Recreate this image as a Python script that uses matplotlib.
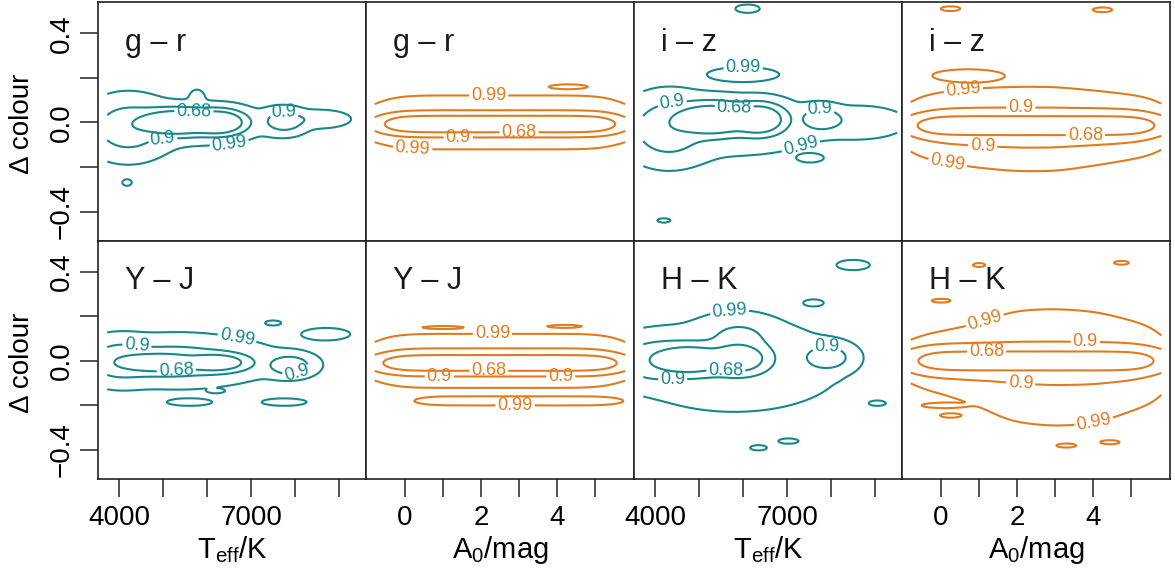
import numpy as np
import matplotlib.pyplot as plt

plt.rcParams['font.family'] = ['Liberation Sans', 'DejaVu Sans']
plt.rcParams['mathtext.fontset'] = 'custom'
plt.rcParams['mathtext.rm'] = 'Liberation Sans'

TEAL = '#17878c'
ORANGE = '#e07b1f'

# Density components per panel: (x centre, colour-residual centre, x width, y width, peak weight)
gr_teff = [(5300, 0.00, 450, 0.030, 0.85), (6250, 0.00, 320, 0.028, 0.85),
           (4200, -0.025, 450, 0.065, 0.15), (7750, 0.005, 260, 0.028, 0.16),
           (8550, 0.015, 350, 0.020, 0.05), (5500, -0.01, 1300, 0.065, 0.015),
           (5770, 0.115, 120, 0.025, 0.012), (4180, -0.27, 60, 0.008, 0.03)]
gr_a0 = [(0, -0.008, 0.55, 0.028, 1.0), (1, -0.008, 0.55, 0.028, 1.0), (2, -0.008, 0.55, 0.028, 1.0),
         (3, -0.008, 0.55, 0.028, 1.0), (4, -0.008, 0.55, 0.028, 1.0), (5, -0.008, 0.55, 0.028, 1.0),
         (0, 0.0, 0.6, 0.058, 0.13), (1, 0.0, 0.6, 0.058, 0.13), (2, 0.0, 0.6, 0.058, 0.13),
         (3, 0.0, 0.6, 0.058, 0.13), (4, 0.0, 0.6, 0.058, 0.13), (5, 0.0, 0.6, 0.058, 0.13),
         (4.3, 0.16, 0.3, 0.006, 0.08)]
iz_teff = [(5300, 0.013, 450, 0.036, 0.85), (6350, 0.013, 300, 0.034, 0.85),
           (4300, -0.03, 450, 0.070, 0.14), (7770, 0.015, 250, 0.028, 0.16),
           (8700, 0.00, 500, 0.035, 0.035), (5600, -0.02, 1500, 0.085, 0.015),
           (6000, 0.215, 400, 0.016, 0.035), (7530, -0.16, 150, 0.010, 0.025),
           (6100, 0.51, 150, 0.010, 0.025), (4200, -0.44, 80, 0.005, 0.025)]
iz_a0 = [(0, -0.014, 0.55, 0.028, 1.0), (1, -0.014, 0.55, 0.028, 1.0), (2, -0.014, 0.55, 0.028, 1.0),
         (3, -0.014, 0.55, 0.028, 1.0), (4, -0.014, 0.55, 0.028, 1.0), (5, -0.014, 0.55, 0.028, 1.0),
         (0, -0.02, 0.6, 0.070, 0.15), (1, -0.025, 0.6, 0.080, 0.15), (2, -0.03, 0.6, 0.085, 0.15),
         (3, -0.03, 0.6, 0.085, 0.15), (4, -0.025, 0.6, 0.075, 0.15), (5, -0.02, 0.6, 0.065, 0.15),
         (0.7, 0.21, 0.5, 0.015, 0.10), (0.25, 0.51, 0.15, 0.006, 0.08), (4.25, 0.505, 0.15, 0.006, 0.08)]
yj_teff = [(4900, -0.008, 500, 0.022, 0.85), (6200, -0.008, 350, 0.020, 0.85),
           (4000, 0.00, 400, 0.050, 0.12), (5300, 0.00, 800, 0.050, 0.10),
           (7870, -0.02, 270, 0.025, 0.16), (5800, 0.00, 1500, 0.060, 0.012),
           (7500, 0.17, 100, 0.006, 0.025), (6200, -0.135, 100, 0.005, 0.025),
           (5600, -0.185, 280, 0.009, 0.025), (7750, -0.185, 280, 0.009, 0.025),
           (8700, 0.12, 300, 0.015, 0.025)]
yj_a0 = [(0, -0.01, 0.55, 0.025, 1.0), (1, -0.01, 0.55, 0.025, 1.0), (2, -0.01, 0.55, 0.025, 1.0),
         (3, -0.01, 0.55, 0.025, 1.0), (4, -0.01, 0.55, 0.025, 1.0), (5, -0.01, 0.55, 0.025, 1.0),
         (0, 0.0, 0.6, 0.055, 0.15), (1, 0.0, 0.6, 0.055, 0.15), (2, 0.0, 0.6, 0.055, 0.15),
         (3, 0.0, 0.6, 0.055, 0.15), (4, 0.0, 0.6, 0.055, 0.15), (5, 0.0, 0.6, 0.055, 0.15),
         (1, -0.18, 0.5, 0.012, 0.06), (2, -0.18, 0.5, 0.012, 0.06), (3, -0.18, 0.5, 0.012, 0.06),
         (4, -0.18, 0.5, 0.012, 0.06), (5, -0.18, 0.5, 0.012, 0.06),
         (1.0, 0.15, 0.35, 0.004, 0.05), (4.2, 0.155, 0.3, 0.004, 0.05)]
hk_teff = [(4800, 0.006, 450, 0.034, 0.85), (5900, 0.01, 330, 0.034, 0.85),
           (4000, 0.00, 450, 0.050, 0.15), (5900, 0.10, 400, 0.045, 0.09),
           (7900, 0.015, 280, 0.030, 0.16), (5800, -0.02, 1300, 0.110, 0.02),
           (8500, 0.43, 200, 0.012, 0.02), (7600, 0.26, 120, 0.008, 0.02),
           (6950, 0.10, 150, 0.010, 0.02), (7800, -0.075, 150, 0.010, 0.02),
           (9050, -0.19, 100, 0.006, 0.02), (6350, -0.39, 100, 0.006, 0.02),
           (7030, -0.36, 120, 0.006, 0.02)]
hk_a0 = [(0, 0.0, 0.55, 0.030, 1.0), (1, 0.0, 0.55, 0.030, 1.0), (2, 0.0, 0.55, 0.030, 1.0),
         (3, 0.0, 0.55, 0.030, 1.0), (4, 0.0, 0.55, 0.030, 1.0), (5, 0.0, 0.55, 0.030, 1.0),
         (0, -0.005, 0.6, 0.065, 0.08), (1, -0.015, 0.6, 0.085, 0.08), (2, -0.025, 0.6, 0.120, 0.08),
         (3, -0.03, 0.6, 0.125, 0.08), (4, -0.03, 0.6, 0.120, 0.08), (5, -0.02, 0.6, 0.095, 0.08),
         (1.0, 0.43, 0.1, 0.005, 0.05), (4.75, 0.44, 0.12, 0.005, 0.05), (0.0, 0.27, 0.15, 0.005, 0.05),
         (0.05, -0.20, 0.3, 0.006, 0.07), (0.25, -0.245, 0.15, 0.005, 0.07),
         (3.3, -0.38, 0.15, 0.005, 0.05), (4.45, -0.365, 0.15, 0.005, 0.05)]

panel_data = [gr_teff, gr_a0, iz_teff, iz_a0, yj_teff, yj_a0, hk_teff, hk_a0]
panel_names = ['g – r', 'g – r', 'i – z', 'i – z', 'Y – J', 'Y – J', 'H – K', 'H – K']
panel_kind = ['teff', 'a0', 'teff', 'a0', 'teff', 'a0', 'teff', 'a0']
probs = [0.99, 0.9, 0.68]
prob_labels = ['0.99', '0.9', '0.68']

teff_ticks = [4000, 5000, 6000, 7000, 8000, 9000]
teff_ticklabels = ['4000', '', '', '7000', '', '']
a0_ticks = [0, 1, 2, 3, 4, 5]
a0_ticklabels = ['0', '', '2', '', '4', '']
y_ticks = [-0.4, -0.2, 0.0, 0.2, 0.4]
y_ticklabels = ['\u22120.4', '', '0.0', '', '0.4']

# where the contour labels sit in each panel
label_spots = [
    [(5700, 0.055), (5000, -0.105), (7750, 0.02), (6500, -0.09)],
    [(3.0, -0.045), (1.4, -0.07), (2.2, 0.11), (0.2, -0.11)],
    [(5800, 0.075), (4400, 0.07), (7750, 0.04), (7300, -0.1), (6000, 0.24)],
    [(3.8, -0.05), (2.1, 0.075), (1.1, -0.085), (0.6, 0.12), (0.2, -0.155)],
    [(5300, -0.045), (4400, 0.06), (8000, -0.02), (6700, 0.125)],
    [(2.2, -0.045), (4.1, -0.06), (2.3, 0.12), (0.9, -0.09), (2.9, -0.2)],
    [(5600, -0.055), (4400, -0.1), (7900, 0.045), (5700, 0.2)],
    [(1.2, 0.05), (3.8, 0.085), (2.1, -0.09), (1.1, 0.21), (4.0, -0.25)],
]

fig = plt.figure(figsize=(11.75, 5.74), dpi=100)
W, H = 1175.0, 574.0
lefts = [98, 366, 634, 902]
tops = [2, 240.5]
pw, ph = 268, 238.5

for i, comps in enumerate(panel_data):
    row, col = divmod(i, 4)
    ax = fig.add_axes([lefts[col] / W, 1 - (tops[row] + ph) / H, pw / W, ph / H])
    if panel_kind[i] == 'teff':
        xs = np.linspace(3730, 9500, 260)
        colour = TEAL
        ax.set_xlim(3520, 9610)
    else:
        xs = np.linspace(-0.8, 5.8, 260)
        colour = ORANGE
        ax.set_xlim(-1.03, 6.03)
    ys = np.linspace(-0.55, 0.55, 260)
    X, Y = np.meshgrid(xs, ys)
    Z = np.zeros_like(X)
    for xc, yc, sx, sy, w in comps:
        Z += w * np.exp(-0.5 * ((X - xc) / sx) ** 2 - 0.5 * ((Y - yc) / sy) ** 2)

    # density thresholds enclosing the given probability mass
    zs = np.sort(Z.ravel())[::-1]
    cum = np.cumsum(zs) / zs.sum()
    levels = [zs[np.searchsorted(cum, p)] for p in probs]

    cs = ax.contour(X, Y, Z, levels=levels, colors=colour, linewidths=1.5)
    fmt = {lev: lab for lev, lab in zip(cs.levels, prob_labels)}
    ax.clabel(cs, fmt=fmt, inline=True, fontsize=13, inline_spacing=2,
              manual=label_spots[i])

    ax.set_ylim(-0.53, 0.54)
    ax.text(0.10, 0.83, panel_names[i], transform=ax.transAxes, fontsize=22,
            ha='left', va='center', color='#1a1a1a')
    for sp in ax.spines.values():
        sp.set_linewidth(1.2)
        sp.set_color('#222222')
    ax.tick_params(direction='out', length=13, width=1.1, labelsize=20, color='#222222', pad=4)
    ax.tick_params(axis='x', pad=6)

    if col == 0:
        ax.set_yticks(y_ticks)
        ax.set_yticklabels(y_ticklabels, rotation=90, va='center')
    else:
        ax.set_yticks([])
    if row == 1:
        if panel_kind[i] == 'teff':
            ax.set_xticks(teff_ticks)
            ax.set_xticklabels(teff_ticklabels)
        else:
            ax.set_xticks(a0_ticks)
            ax.set_xticklabels(a0_ticklabels)
    else:
        ax.set_xticks([])

for r in range(2):
    yc = tops[r] + 122
    fig.text(22 / W, 1 - yc / H, '\u0394 colour', rotation=90, fontsize=20,
             ha='center', va='center')
for c in range(4):
    xc = (lefts[c] + pw / 2) / W
    lab = r'$\mathregular{T_{eff}/K}$' if c % 2 == 0 else r'$\mathregular{A_0/mag}$'
    fig.text(xc, 1 - 550 / H, lab, fontsize=21, ha='center', va='center')

fig.savefig('out.png', dpi=100)
